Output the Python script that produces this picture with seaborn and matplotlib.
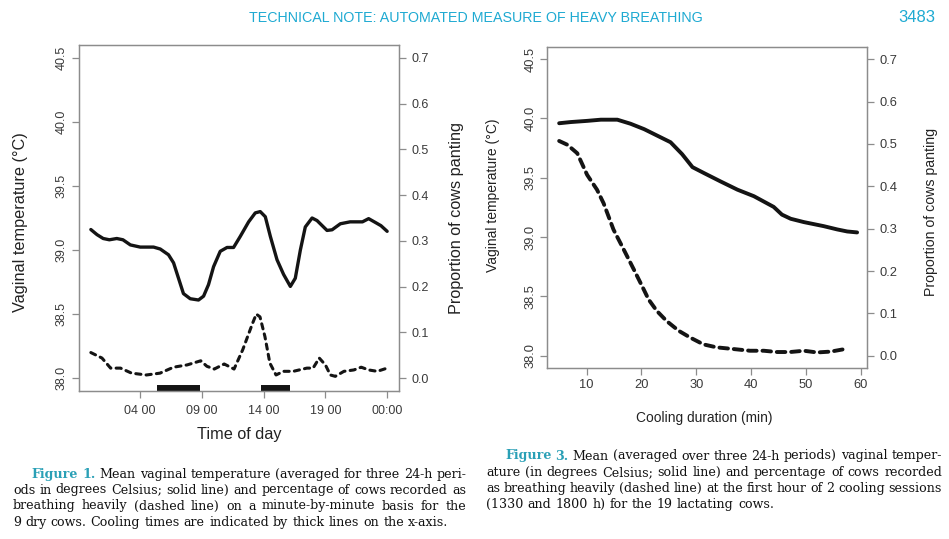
# Two figures from a dairy-cow cooling paper: vaginal temperature (solid) and
# proportion of cows panting (dashed), with page header and captions.
import numpy as np
import pandas as pd
import matplotlib.pyplot as plt
import seaborn as sns

# Figure 1 - time of day (hours), dry cows
day_hours_temp = [0.0, 0.5, 1.0, 1.5, 2.1, 2.6, 3.2, 4.0, 5.08, 5.62, 6.29, 6.7, 7.1,
                  7.5, 8.05, 8.72, 9.13, 9.53, 9.94, 10.48, 11.03, 11.56, 12.1, 12.78,
                  13.32, 13.72, 14.13, 14.54, 15.08, 15.61, 16.16, 16.56, 16.97, 17.37,
                  17.92, 18.32, 19.13, 19.54, 20.21, 21.0, 22.0, 22.5, 23.05, 23.5, 24.0]
day_temp = [39.16, 39.12, 39.09, 39.08, 39.09, 39.08, 39.04, 39.023, 39.023, 39.008,
            38.963, 38.90, 38.78, 38.66, 38.62, 38.61, 38.64, 38.73, 38.87, 38.99,
            39.02, 39.02, 39.106, 39.22, 39.29, 39.30, 39.26, 39.106, 38.924, 38.81,
            38.716, 38.78, 39.0, 39.18, 39.25, 39.23, 39.153, 39.158, 39.205, 39.22,
            39.22, 39.245, 39.215, 39.19, 39.146]
day_hours_pant = [0.0, 0.9, 1.6, 2.4, 3.3, 4.5, 5.6, 6.7, 7.8, 8.9, 9.4, 10.0, 10.8,
                  11.6, 12.3, 13.1, 13.4, 13.7, 14.1, 14.5, 15.0, 15.6, 16.4, 17.5,
                  18.0, 18.5, 19.0, 19.4, 19.8, 20.5, 21.3, 21.9, 22.5, 23.2, 24.0]
day_pant = [0.056, 0.044, 0.022, 0.022, 0.011, 0.007, 0.011, 0.024, 0.029, 0.038,
            0.026, 0.02, 0.031, 0.02, 0.062, 0.12, 0.14, 0.134, 0.091, 0.033, 0.007,
            0.015, 0.015, 0.022, 0.022, 0.044, 0.029, 0.007, 0.004, 0.015, 0.018,
            0.024, 0.018, 0.015, 0.022]
cool_start = [5.37, 13.8]
cool_end = [8.84, 16.15]
day_ticks = [4, 9, 14, 19, 24]
day_tick_labels = ['04 00', '09 00', '14 00', '19 00', '00:00']

# Figure 3 - cooling duration (min), lactating cows
cool_min_temp = [5.0, 7.1, 10.1, 12.6, 15.6, 18.0, 20.5, 22.9, 25.3, 27.4, 29.3, 31.4,
                 34.4, 37.5, 40.5, 42.3, 44.1, 45.6, 47.2, 49.6, 53.2, 55.7, 57.5, 59.3]
cool_temp = [39.96, 39.97, 39.98, 39.99, 39.99, 39.956, 39.91, 39.855, 39.80, 39.70,
             39.59, 39.54, 39.47, 39.40, 39.345, 39.30, 39.255, 39.19, 39.155, 39.127,
             39.093, 39.065, 39.048, 39.04]
cool_min_pant = [5.0, 6.5, 8.3, 10.1, 11.9, 13.1, 14.9, 16.8, 18.6, 20.1, 21.3, 22.8,
                 24.6, 26.8, 28.9, 31.3, 33.7, 36.8, 39.8, 42.3, 44.7, 47.1, 49.6, 52.0,
                 54.5, 57.5]
cool_pant = [0.507, 0.498, 0.478, 0.427, 0.392, 0.36, 0.298, 0.25, 0.204, 0.165, 0.133,
             0.106, 0.082, 0.059, 0.043, 0.027, 0.02, 0.016, 0.012, 0.012, 0.009, 0.009,
             0.012, 0.008, 0.01, 0.017]

temp_ticks = [38.0, 38.5, 39.0, 39.5, 40.0, 40.5]
pant_ticks = [0.0, 0.1, 0.2, 0.3, 0.4, 0.5, 0.6, 0.7]

W, H = 949, 539
line_col = '#141414'
axis_col = '#8c8c8c'
text_col = '#3a3a3a'
teal = '#2aa0b6'
header_col = '#1eaad2'

sns.set_style("ticks")
plt.rcParams['font.family'] = ['Liberation Sans', 'DejaVu Sans']

fig = plt.figure(figsize=(W / 100, H / 100), dpi=100)


def style_axes(ax, axr, tick_size):
    for a in (ax, axr):
        for s in a.spines.values():
            s.set_color(axis_col)
            s.set_linewidth(0.9)
            s.set_visible(True)
        a.tick_params(colors=axis_col, labelcolor=text_col, labelsize=tick_size,
                      length=5, width=0.9)
    ax.set_ylim(37.9, 40.6)
    ax.set_yticks(temp_ticks)
    ax.set_yticklabels([f'{v:.1f}' for v in temp_ticks])
    for t in ax.get_yticklabels():
        t.set_rotation(90)
        t.set_va('center')
    ax.tick_params(axis='y', pad=3)
    axr.set_ylim(-0.028, 0.728)
    axr.set_yticks(pant_ticks)
    axr.set_yticklabels([f'{v:.1f}' for v in pant_ticks])
    axr.tick_params(axis='y', pad=4)


# ---- Figure 1 ----
ax1 = fig.add_axes([79 / W, 1 - 391 / H, 320 / W, 346 / H])
ax1r = ax1.twinx()
sns.lineplot(x=day_hours_temp, y=day_temp, ax=ax1, color=line_col, lw=2.4,
             solid_joinstyle='round', solid_capstyle='round')
sns.lineplot(x=day_hours_pant, y=day_pant, ax=ax1r, color=line_col, lw=2.2,
             linestyle=(0, (1.7, 1.7)), dash_capstyle='round', dash_joinstyle='round')
ax1.hlines([37.925] * len(cool_start), cool_start, cool_end, colors=line_col, lw=4.3)
ax1.set_xlim(-0.96, 24.96)
ax1.set_xticks(day_ticks)
ax1.set_xticklabels(day_tick_labels)
style_axes(ax1, ax1r, 9)
ax1.tick_params(axis='x', pad=5)
ax1.set_xlabel('Time of day', fontsize=11.7, color='#222222')
ax1.xaxis.set_label_coords(0.5, -0.126)
ax1.xaxis.label.set_va('center')
ax1.set_ylabel('Vaginal temperature (°C)', fontsize=11.7, color='#222222')
ax1.yaxis.set_label_coords(-0.182, 0.488)
ax1.yaxis.label.set_va('center')
ax1r.set_ylabel('Proportion of cows panting', fontsize=11.7, color='#222222')
ax1r.yaxis.set_label_coords(1.18, 0.5)
ax1r.yaxis.label.set_va('center')

# ---- Figure 3 ----
ax3 = fig.add_axes([547.3 / W, 1 - 367.7 / H, 320 / W, 320.4 / H])
ax3r = ax3.twinx()
sns.lineplot(x=cool_min_temp, y=cool_temp, ax=ax3, color=line_col, lw=2.8,
             solid_joinstyle='round', solid_capstyle='round')
sns.lineplot(x=cool_min_pant, y=cool_pant, ax=ax3r, color=line_col, lw=2.8,
             linestyle=(0, (2.2, 1.5)), dash_capstyle='round', dash_joinstyle='round')
ax3.set_xlim(2.84, 61.16)
ax3.set_xticks([10, 20, 30, 40, 50, 60])
style_axes(ax3, ax3r, 9.3)
ax3.tick_params(axis='x', pad=3)
ax3.set_xlabel('Cooling duration (min)', fontsize=9.9, color='#222222')
ax3.xaxis.set_label_coords(0.49, -0.158)
ax3.xaxis.label.set_va('center')
ax3.set_ylabel('Vaginal temperature (°C)', fontsize=10, color='#222222')
ax3.yaxis.set_label_coords(-0.171, 0.537)
ax3.yaxis.label.set_va('center')
ax3r.set_ylabel('Proportion of cows panting', fontsize=10.2, color='#222222')
ax3r.yaxis.set_label_coords(1.198, 0.486)
ax3r.yaxis.label.set_va('center')

# ---- page header ----
fig.text(476 / W, 1 - 17.8 / H, 'TECHNICAL NOTE: AUTOMATED MEASURE OF HEAVY BREATHING',
         fontsize=10.3, color=header_col, ha='center', va='center')
fig.text(935 / W, 1 - 17.5 / H, '3483', fontsize=12, color=header_col,
         ha='right', va='center')

# ---- captions (justified by hand) ----
renderer = fig.canvas.get_renderer()
cap_size = 9.1


def caption_line(x0, x1, y, text, n_head=0, justify=True):
    words = text.split()
    texts = []
    for i, w in enumerate(words):
        head = i < n_head
        texts.append(fig.text(0, 1 - y / H, w, fontsize=cap_size, va='center', ha='left',
                              family='DejaVu Serif', color=teal if head else '#111111',
                              weight='bold' if head else 'normal'))
    widths = [t.get_window_extent(renderer).width for t in texts]
    gap = (x1 - x0 - sum(widths)) / (len(words) - 1) if justify else 4.2
    x = x0
    for t, w in zip(texts, widths):
        t.set_x(x / W)
        x += w + gap


caption_line(31.7, 466, 474.3, 'Figure 1. Mean vaginal temperature (averaged for three 24-h peri-', 2)
caption_line(13, 466, 490, 'ods in degrees Celsius; solid line) and percentage of cows recorded as')
caption_line(13, 466, 506, 'breathing heavily (dashed line) on a minute-by-minute basis for the')
caption_line(13, 466, 522.3, '9 dry cows. Cooling times are indicated by thick lines on the x-axis.',
             justify=False)
caption_line(505, 942, 456, 'Figure 3. Mean (averaged over three 24-h periods) vaginal temper-', 2)
caption_line(486, 942, 472.7, 'ature (in degrees Celsius; solid line) and percentage of cows recorded')
caption_line(486, 942, 488.3, 'as breathing heavily (dashed line) at the first hour of 2 cooling sessions')
caption_line(486, 942, 504.3, '(1330 and 1800 h) for the 19 lactating cows.', justify=False)

fig.savefig('out.png', dpi=100)
